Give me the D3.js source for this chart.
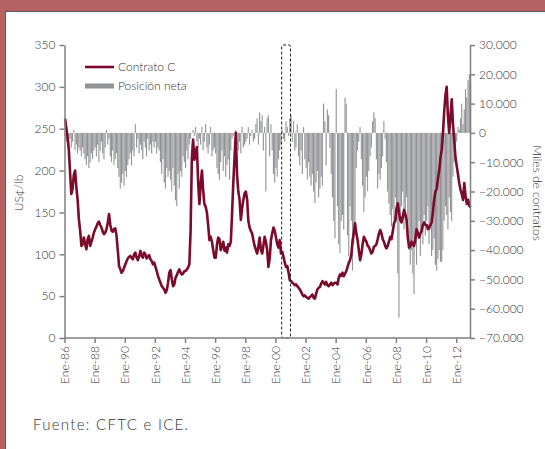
<!DOCTYPE html>
<html>
<head>
<meta charset="utf-8">
<script src="https://cdn.jsdelivr.net/npm/d3@7"></script>
<style>
	body { margin: 0; background: #b46264; }
	svg { display: block; }
	text { font-family: Lato, "Open Sans", sans-serif; font-weight: 300; fill: #333; }
	.axis path, .axis line { stroke: #808080; stroke-width: 1.5; }
	.axis text { font-size: 12px; fill: #333; }
</style>
</head>
<body>
<svg id="chart" width="545" height="449"></svg>
<script>
"use strict";

// first month of the series, one value per month after that
var startMonth = new Date(1986, 0, 1);
var endMonth = new Date(2013, 0, 1);

// Contrato C, US cents per lb (monthly)
var precio = [
	262, 250, 240, 225, 198, 172, 178, 195, 200, 180, 165, 142, // 1986
	128, 110, 112, 120, 112, 106, 118, 122, 110, 115, 120, 126, // 1987
	130, 133, 137, 139, 135, 132, 127, 124, 126, 130, 138, 148, // 1988
	135, 128, 127, 130, 131, 122, 105, 86, 82, 78, 80, 84,      // 1989
	88, 92, 95, 97, 98, 96, 94, 100, 102, 96, 93, 98,           // 1990
	104, 98, 96, 102, 100, 95, 97, 99, 94, 92, 88, 90,          // 1991
	85, 80, 74, 70, 66, 62, 60, 58, 54, 57, 66, 78,             // 1992
	81, 70, 62, 64, 72, 75, 79, 82, 78, 76, 77, 80,             // 1993
	80, 82, 84, 88, 127, 215, 237, 213, 222, 228, 185, 160,     // 1994
	185, 200, 177, 160, 157, 150, 135, 117, 121, 115, 105, 96,  // 1995
	96, 112, 120, 118, 105, 110, 115, 104, 108, 102, 112, 110,  // 1996
	115, 150, 185, 215, 245, 195, 175, 165, 141, 155, 165, 173, // 1997
	175, 165, 140, 132, 128, 125, 117, 110, 105, 101, 110, 120, // 1998
	105, 101, 110, 121, 115, 105, 85, 95, 117, 125, 132, 128,   // 1999
	120, 112, 108, 117, 101, 103, 97, 90, 85, 86, 78, 69,       // 2000
	68, 66, 65, 63, 64, 62, 60, 58, 55, 52, 50, 51,             // 2001
	49, 48, 47, 49, 50, 52, 48, 47, 53, 58, 60, 61,             // 2002
	65, 68, 66, 64, 67, 63, 62, 64, 66, 63, 65, 66,             // 2003
	66, 64, 72, 76, 74, 78, 74, 77, 80, 85, 90, 93,             // 2004
	100, 117, 125, 137, 125, 117, 105, 93, 100, 112, 121, 118,  // 2005
	115, 110, 109, 105, 101, 103, 109, 110, 112, 118, 125, 129, // 2006
	125, 118, 115, 110, 107, 110, 115, 121, 118, 127, 137, 140, // 2007
	155, 161, 150, 141, 138, 145, 153, 148, 141, 120, 108, 110, // 2008
	115, 112, 110, 118, 130, 125, 120, 125, 128, 135, 138, 135, // 2009
	135, 130, 132, 135, 138, 150, 165, 175, 178, 190, 200, 215, // 2010
	225, 245, 270, 290, 300, 265, 245, 265, 285, 255, 235, 215, // 2011
	205, 195, 185, 177, 172, 165, 185, 170, 160, 165, 158, 156  // 2012
];

// Posicion neta, thousands of contracts (monthly)
var posicionNeta = [
	-1, -3, 1, -4, -2, -5, -3, 1, -6, -4, -7, -5,               // 1986
	-6, -8, -5, -7, -9, -11, -8, -12, -10, -7, -9, -6,          // 1987
	-5, -8, -4, -10, -6, -3, -7, -9, -5, 1, -4, -2,             // 1988
	-8, -10, -6, -11, -9, -7, -12, -15, -19, -17, -14, -18,     // 1989
	-13, -15, -11, -9, -7, -11, -6, -8, 3, -5, -2, -7,          // 1990
	-4, -6, -9, -3, -5, -8, -2, -6, -4, -7, -3, -5,             // 1991
	-3, -7, -5, -6, -10, -14, -9, -17, -19, -12, -15, -13,      // 1992
	-16, -20, -12, -18, -23, -25, -14, -19, -13, -15, -8, -10,  // 1993
	-12, -6, -9, -4, -2, 0, 1, -1, 2, -3, -5, -2,               // 1994
	-4, 2, -6, -3, 3, -5, -7, -4, 2, -8, -6, -5,                // 1995
	-7, -12, -14, -16, -10, -6, -13, -8, -15, -11, -9, -16,     // 1996
	-6, -2, -1, 0, 1, -4, -6, -3, -7, 2, -5, -4,                // 1997
	-3, -2, 2, -4, -1, 1, -3, -2, 3, 5, -4, 7,                  // 1998
	4, 6, -6, 2, -20, 5, 6, -8, 3, -6, -14, -17,                // 1999
	-12, -15, -9, -6, -4, 1, -2, -3, 4, 2, -1, 5,               // 2000
	6, -3, 4, -6, -5, 3, -8, -11, -6, -14, 2, -9,               // 2001
	-12, -16, -10, -15, -18, -14, -20, -24, -17, -13, -22, -19, // 2002
	-15, -18, 10, 4, -11, 8, 6, -5, -14, -22, -30, -36,         // 2003
	15, -25, -38, -41, -30, -28, -33, 12, 10, -35, -42, -25,    // 2004
	-30, -47, -38, -34, -12, -6, -3, 2, -9, -18, -27, -22,      // 2005
	-15, -20, -13, -8, -5, 4, 7, 5, -9, -19, -14, -16,          // 2006
	-12, -8, 4, -2, -10, -20, -24, -28, -32, -26, -30, -22,     // 2007
	-30, -48, -63, -28, -25, -20, -33, -28, -22, -30, -40, -45, // 2008
	-40, -48, -55, -38, -45, -35, -30, -42, -33, -38, -28, -35, // 2009
	-30, -25, -38, -33, -42, -40, -36, -45, -47, -43, -40, -44, // 2010
	-44, -40, -30, -25, -28, -33, -22, -27, -30, -15, -10, -6,  // 2011
	-3, 2, 1, 5, 10, 3, 8, 15, 12, 18, 20, 17                   // 2012
];

// axis ticks
var precioTicks = [0, 50, 100, 150, 200, 250, 300, 350];
var posicionTicks = [-70, -60, -50, -40, -30, -20, -10, 0, 10, 20, 30];
var anioTicks = d3.range(1986, 2013, 2);

// dotted box around the 2000 break
var recuadro = [new Date(2000, 5, 1), new Date(2001, 0, 1)];

var esLocale = d3.formatLocale({decimal: ",", thousands: ".", grouping: [3], currency: ["", ""]});
var fmtMiles = esLocale.format(",");

function draw() {
	var svg = d3.select("#chart");
	var left = 64.5, right = 470, top = 45, bottom = 338;

	var months = d3.timeMonth.range(startMonth, endMonth);
	var data = months.map((m, i) => ({date: m, precio: precio[i], neta: posicionNeta[i]}));

	// white panel
	svg.append("rect")
		.attr("x", 5.5).attr("y", 11.5)
		.attr("width", 560).attr("height", 460)
		.attr("fill", "#fff")
		.attr("stroke", "#5a5a5a")
		.attr("stroke-width", 1);

	var x = d3.scaleTime()
		.domain([startMonth, new Date(2012, 11, 1)])
		.range([left, right]);
	var yL = d3.scaleLinear().domain([0, 350]).range([bottom, top]);
	var yR = d3.scaleLinear().domain([-70, 30]).range([bottom, top]);

	// net position bars
	svg.append("g")
		.selectAll("rect")
		.data(data)
		.enter()
		.append("rect")
		.attr("x", d => x(d.date))
		.attr("width", d => Math.max(0.6, x(d3.timeMonth.offset(d.date, 1)) - x(d.date) - 0.15))
		.attr("y", d => Math.min(yR(d.neta), yR(0)))
		.attr("height", d => Math.abs(yR(d.neta) - yR(0)))
		.attr("fill", "#929397");

	// price line
	var line = d3.line()
		.x(d => x(d.date) + 0.6)
		.y(d => yL(d.precio));
	svg.append("path")
		.datum(data)
		.attr("d", line)
		.attr("fill", "none")
		.attr("stroke", "#7b0a2b")
		.attr("stroke-width", 2.6)
		.attr("stroke-linejoin", "round");

	// dotted box
	svg.append("rect")
		.attr("x", x(recuadro[0]))
		.attr("y", yL(350))
		.attr("width", x(recuadro[1]) - x(recuadro[0]))
		.attr("height", yL(0) - yL(350))
		.attr("rx", 1.5)
		.attr("fill", "none")
		.attr("stroke", "#222")
		.attr("stroke-width", 1)
		.attr("stroke-dasharray", "3,2");

	// axes
	svg.append("g")
		.attr("class", "axis")
		.attr("transform", `translate(${left},0)`)
		.call(d3.axisLeft(yL).tickValues(precioTicks).tickSize(5).tickPadding(4).tickSizeOuter(0));

	svg.append("g")
		.attr("class", "axis")
		.attr("transform", `translate(${right},0)`)
		.call(d3.axisRight(yR).tickValues(posicionTicks).tickSize(5).tickPadding(4).tickSizeOuter(0)
			.tickFormat(d => fmtMiles(d * 1000)));

	var xaxis = svg.append("g")
		.attr("class", "axis")
		.attr("transform", `translate(0,${bottom})`)
		.call(d3.axisBottom(x)
			.tickValues(anioTicks.map(a => new Date(a, 0, 1)))
			.tickSize(5).tickSizeOuter(0)
			.tickFormat(d => "Ene-" + d3.timeFormat("%y")(d)));
	xaxis.select(".domain").attr("d", `M${left},0H${right}`);
	xaxis.selectAll("text")
		.attr("transform", "rotate(-90)")
		.attr("text-anchor", "end")
		.attr("x", -8)
		.attr("y", 0)
		.attr("dy", "0.35em");

	// axis titles
	svg.append("text")
		.attr("transform", "translate(23,193) rotate(-90)")
		.attr("text-anchor", "middle")
		.style("font-size", "12px")
		.text("US¢/lb");
	svg.append("text")
		.attr("transform", "translate(533,193) rotate(90)")
		.attr("text-anchor", "middle")
		.style("font-size", "12px")
		.text("Miles de contratos");

	// legend
	var lg = svg.append("g").attr("transform", "translate(85,67)");
	lg.append("line").attr("x1", 0).attr("x2", 29).attr("y1", 0).attr("y2", 0)
		.attr("stroke", "#7b0a2b").attr("stroke-width", 2.6);
	lg.append("text").attr("x", 33).attr("y", 0).attr("dy", "0.35em")
		.style("font-size", "12px").text("Contrato C");
	lg.append("line").attr("x1", 0).attr("x2", 29).attr("y1", 19).attr("y2", 19)
		.attr("stroke", "#929397").attr("stroke-width", 5);
	lg.append("text").attr("x", 33).attr("y", 19).attr("dy", "0.35em")
		.style("font-size", "12px").text("Posición neta");

	// source note
	svg.append("text")
		.attr("x", 33).attr("y", 430)
		.style("font-size", "15px")
		.style("letter-spacing", "1.3px")
		.text("Fuente: CFTC e ICE.");
}

document.addEventListener("DOMContentLoaded", draw);
</script>
</body>
</html>
